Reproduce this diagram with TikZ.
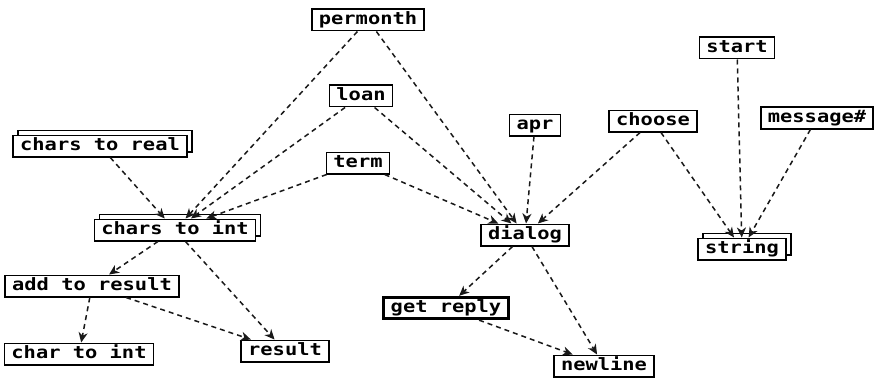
\documentclass[tikz,border=0pt]{standalone}
\usepackage{fontspec}
\setmonofont{DejaVu Sans Mono}[FakeStretch=1.2]
\usepackage{tikz}
\usetikzlibrary{arrows.meta,shadows}
\tikzset{
  proc/.style={draw=black,fill=white,line width=1.5pt,rectangle,
               font=\ttfamily\bfseries\fontsize{17}{20}\selectfont,
               text height=13pt,text depth=3.5pt,inner xsep=7pt,inner ysep=2.5pt},
  multi/.style={proc,copy shadow={shadow xshift=5pt,shadow yshift=5pt,
               draw=black,fill=white,line width=1.5pt}},
  mainproc/.style={proc,line width=2.8pt},
  uses/.style={-{Stealth[length=10pt,width=9pt,inset=3pt]},
               dash pattern=on 5pt off 4pt,line width=1.5pt,black!90},
}

\begin{document}
\begin{tikzpicture}[x=1pt,y=-1pt]
  \useasboundingbox (0,0) rectangle (874,377);
  % top level modules
  \node[proc]  (perm)   at (368,20)  {permonth};
  \node[proc]  (loan)   at (361,96)  {loan};
  \node[proc]  (term)   at (358,163) {term};
  \node[proc]  (apr)    at (535,125) {apr};
  \node[proc]  (choose) at (653,121) {choose};
  \node[proc]  (start)  at (737,48)  {start};
  \node[proc]  (msg)    at (817,118) {message\#};
  % conversion
  \node[multi] (creal)  at (100,146) {chars to real};
  \node[multi] (cint)   at (175,230) {chars to int};
  \node[proc]  (addres) at (92,286)  {add to result};
  \node[proc]  (chint)  at (79,354)  {char to int};
  \node[proc]  (result) at (285,351) {result};
  % dialog part
  \node[proc]  (dialog) at (525,235) {dialog};
  \node[multi] (string) at (742,249) {string};
  \node[mainproc] (getrep) at (446,308) {get reply};
  \node[proc]  (newline) at (604,366) {newline};

  % calls
  \draw[uses] (creal) -- (cint);
  \draw[uses] (perm) -- (cint);
  \draw[uses] (loan) -- (cint);
  \draw[uses] (term) -- (cint);
  \draw[uses] (perm) -- (dialog);
  \draw[uses] (loan) -- (dialog);
  \draw[uses] (term) -- (dialog);
  \draw[uses] (apr) -- (dialog);
  \draw[uses] (choose) -- (dialog);
  \draw[uses] (choose) -- (string);
  \draw[uses] (start) -- (string);
  \draw[uses] (msg) -- (string);
  \draw[uses] (cint) -- (addres);
  \draw[uses] (cint) -- (result);
  \draw[uses] (addres) -- (chint);
  \draw[uses] (addres) -- (result);
  \draw[uses] (dialog) -- (getrep);
  \draw[uses] (dialog) -- (newline);
  \draw[uses] (getrep) -- (newline);
\end{tikzpicture}
\end{document}
